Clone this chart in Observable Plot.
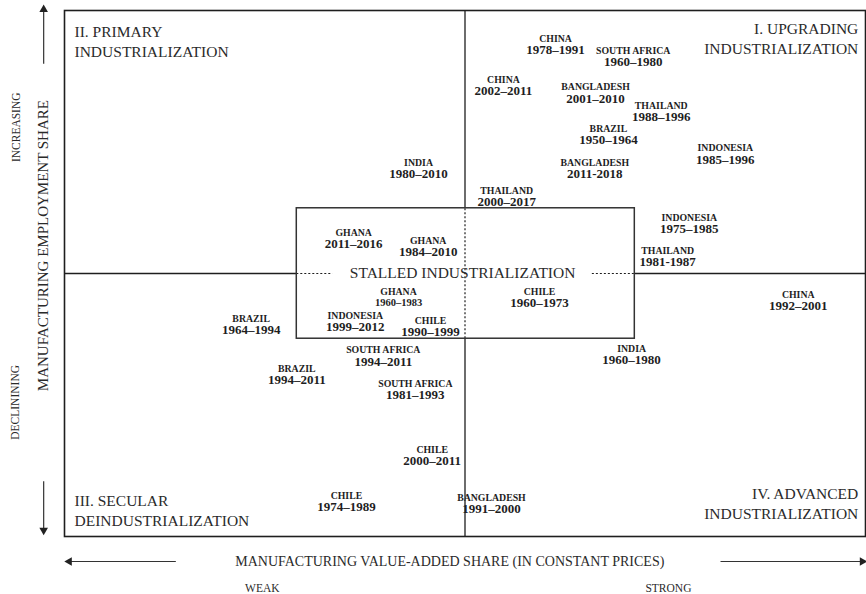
<!DOCTYPE html>
<html>
<head>
<meta charset="utf-8">
<script src="https://cdn.jsdelivr.net/npm/d3@7"></script>
<script src="https://cdn.jsdelivr.net/npm/@observablehq/plot@0.6"></script>
<style>
  html, body { margin: 0; padding: 0; background: #fff; }
  #chart svg { display: block; }
</style>
</head>
<body>
<div id="chart"></div>
<script>
// ---- Data: country episodes placed on the two dimensions (0–100 scale, 50 = neutral) ----
const countries = ["CHINA", "SOUTH AFRICA", "CHINA", "BANGLADESH", "THAILAND", "BRAZIL", "INDONESIA",
  "BANGLADESH", "THAILAND", "INDIA", "GHANA", "GHANA", "GHANA", "INDONESIA", "CHILE", "CHILE",
  "INDONESIA", "THAILAND", "CHINA", "INDIA", "BRAZIL", "SOUTH AFRICA", "BRAZIL", "SOUTH AFRICA",
  "CHILE", "CHILE", "BANGLADESH"];
const periods = ["1978–1991", "1960–1980", "2002–2011", "2001–2010", "1988–1996", "1950–1964", "1985–1996",
  "2011-2018", "2000–2017", "1980–2010", "2011–2016", "1984–2010", "1960–1983", "1999–2012", "1990–1999", "1960–1973",
  "1975–1985", "1981-1987", "1992–2001", "1960–1980", "1964–1994", "1994–2011", "1994–2011", "1981–1993",
  "2000–2011", "1974–1989", "1991–2000"];
// Manufacturing value-added share (weak → strong)
const valueAdded = [61.3, 71.0, 54.8, 66.3, 74.5, 67.9, 82.5,
  66.2, 55.2, 44.2, 36.1, 45.4, 41.7, 36.3, 45.7, 59.3,
  78.0, 75.3, 91.6, 70.8, 23.3, 39.8, 29.0, 43.8,
  45.9, 35.2, 53.3];
// Manufacturing employment share (declining → increasing)
const employment = [92.6, 90.3, 84.8, 83.3, 79.7, 75.5, 71.7,
  69.0, 63.7, 69.0, 55.7, 54.2, 44.5, 39.9, 39.0, 44.5,
  58.4, 52.3, 43.9, 33.5, 39.2, 33.3, 29.7, 27.0,
  14.3, 5.7, 5.3];

// Quadrant names
const quadrantLine1 = ["II. PRIMARY", "I. UPGRADING", "III. SECULAR", "IV. ADVANCED"];
const quadrantLine2 = ["INDUSTRIALIZATION", "INDUSTRIALIZATION", "DEINDUSTRIALIZATION", "INDUSTRIALIZATION"];
const quadrantX = [1.25, 99.1, 1.25, 99.1];
const quadrantY = [96.0, 96.4, 6.7, 8.0];

// Neutral split and the "stalled" zone
const splitValue = 50;
const stalledX = [29.0, 71.2];
const stalledY = [37.6, 62.4];
const stalledTitle = "STALLED INDUSTRIALIZATION";
const stalledTextGap = [33.5, 65.9];

// Axis texts
const xTitle = "MANUFACTURING VALUE-ADDED SHARE (IN CONSTANT PRICES)";
const yTitle = "MANUFACTURING EMPLOYMENT SHARE";
const xEnds = ["WEAK", "STRONG"];
const yEnds = ["INCREASING", "DECLININING"];

// ---- Build tables ----
const episodes = countries.map((c, i) => ({country: c, period: periods[i], x: valueAdded[i], y: employment[i]}));
const quadrants = quadrantLine1.map((t, i) => ({l1: t, l2: quadrantLine2[i], x: quadrantX[i], y: quadrantY[i]}));
const leftQuadrants = quadrants.filter(d => d.x < splitValue);
const rightQuadrants = quadrants.filter(d => d.x >= splitValue);

const vSegs = [
  {x: splitValue, y1: 0, y2: stalledY[0], dashed: false},
  {x: splitValue, y1: stalledY[0], y2: stalledY[1], dashed: true},
  {x: splitValue, y1: stalledY[1], y2: 100, dashed: false}
];
const hSegs = [
  {y: splitValue, x1: 0, x2: stalledX[0], dashed: false},
  {y: splitValue, x1: stalledX[0], x2: stalledTextGap[0], dashed: true},
  {y: splitValue, x1: stalledTextGap[1], x2: stalledX[1], dashed: true},
  {y: splitValue, x1: stalledX[1], x2: 100, dashed: false}
];

const xTitleY = -4.75, xEndY = -9.9, yArrowX = -2.6;
const arrows = [
  {x1: 13.9, y1: xTitleY, x2: 0.6, y2: xTitleY},
  {x1: 81.9, y1: xTitleY, x2: 99.6, y2: xTitleY},
  {x1: yArrowX, y1: 89.9, x2: yArrowX, y2: 100.2},
  {x1: yArrowX, y1: 10.5, x2: yArrowX, y2: 1.2}
].map(a => ({...a, rot: a.x2 < a.x1 ? -90 : a.x2 > a.x1 ? 90 : a.y2 > a.y1 ? 0 : 180}));

const serif = "'Liberation Serif', 'Times New Roman', 'DejaVu Serif', serif";
const ink = "#1e1e1e";
const soft = "#2a2a2a";
const smallPeriods = new Set(["1960–1983"]);

const quadText = (data, anchor) => [
  Plot.text(data, {x: "x", y: "y", text: "l1", textAnchor: anchor, fontSize: 15.5, fill: soft, fontFamily: serif}),
  Plot.text(data, {x: "x", y: "y", text: "l2", textAnchor: anchor, dy: 20, fontSize: 15.5, fill: soft, fontFamily: serif})
];

const chart = Plot.plot({
  width: 866,
  height: 594,
  marginLeft: 64,
  marginRight: 1,
  marginTop: 10,
  marginBottom: 58,
  x: {domain: [0, 100], axis: null},
  y: {domain: [0, 100], axis: null},
  style: {fontFamily: serif, background: "#fff", color: ink},
  marks: [
    Plot.ruleX(vSegs.filter(d => !d.dashed), {x: "x", y1: "y1", y2: "y2", stroke: ink, strokeWidth: 1.3}),
    Plot.ruleX(vSegs.filter(d => d.dashed), {x: "x", y1: "y1", y2: "y2", stroke: ink, strokeWidth: 1.2, strokeDasharray: "2,2"}),
    Plot.ruleY(hSegs.filter(d => !d.dashed), {y: "y", x1: "x1", x2: "x2", stroke: ink, strokeWidth: 1.3}),
    Plot.ruleY(hSegs.filter(d => d.dashed), {y: "y", x1: "x1", x2: "x2", stroke: ink, strokeWidth: 1.2, strokeDasharray: "2,2"}),
    Plot.rect([{x1: stalledX[0], x2: stalledX[1], y1: stalledY[0], y2: stalledY[1]}],
      {x1: "x1", x2: "x2", y1: "y1", y2: "y2", fill: "none", stroke: "#333", strokeWidth: 1.5}),
    Plot.frame({stroke: ink, strokeWidth: 1.6}),
    Plot.text([stalledTitle], {x: (stalledTextGap[0] + stalledTextGap[1]) / 2, y: splitValue, text: d => d,
      fontSize: 15.5, fill: soft, fontFamily: serif}),
    // quadrant names
    ...quadText(leftQuadrants, "start"),
    ...quadText(rightQuadrants, "end"),
    // country episode labels
    Plot.text(episodes, {x: "x", y: "y", text: "country", dy: -11, fontSize: 9.8, fontWeight: "bold", fill: ink, fontFamily: serif}),
    Plot.text(episodes.filter(d => !smallPeriods.has(d.period)), {x: "x", y: "y", text: "period", fontSize: 13, fontWeight: "bold", fill: ink, fontFamily: serif}),
    Plot.text(episodes.filter(d => smallPeriods.has(d.period)), {x: "x", y: "y", text: "period", fontSize: 10.5, fontWeight: "bold", fill: ink, fontFamily: serif}),
    // axis titles
    Plot.text([xTitle], {x: 48.1, y: xTitleY, text: d => d, fontSize: 14, fill: soft, fontFamily: serif}),
    Plot.text(xEnds, {x: [24.7, 75.4], y: xEndY, text: d => d, fontSize: 11.5, fill: soft, fontFamily: serif}),
    Plot.text([yTitle], {x: yArrowX, y: 55.3, text: d => d, rotate: -90, fontSize: 15, fill: soft, fontFamily: serif}),
    Plot.text(yEnds, {x: [-6.0, -6.2], y: [77.8, 25.5], text: d => d, rotate: -90, fontSize: 11.5, fill: soft, fontFamily: serif}),
    // arrows
    Plot.link(arrows, {x1: "x1", y1: "y1", x2: "x2", y2: "y2", stroke: "#333", strokeWidth: 1.2}),
    Plot.dot(arrows, {x: "x2", y: "y2", symbol: "triangle", r: 3.2, fill: "#222", stroke: "none", rotate: "rot"})
  ]
});

document.getElementById("chart").append(chart);
</script>
</body>
</html>
